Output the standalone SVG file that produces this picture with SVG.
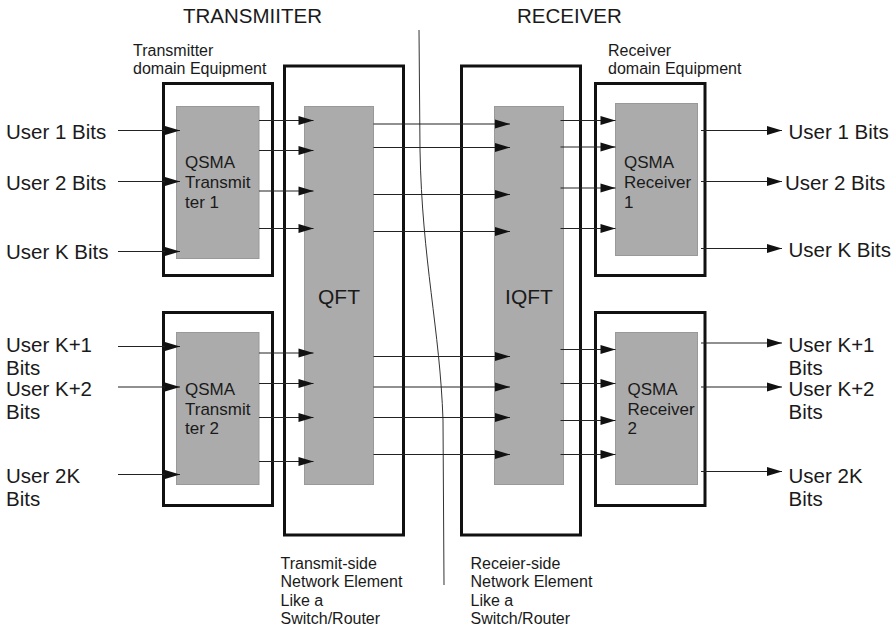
<svg xmlns="http://www.w3.org/2000/svg" width="896" height="630" viewBox="0 0 896 630">
<defs>
<marker id="ah" markerUnits="userSpaceOnUse" markerWidth="15" markerHeight="9" refX="15" refY="4.5" orient="auto" overflow="visible">
<path d="M0,0 L15,4.5 L0,9 Z" fill="#111"/>
</marker>
<style>
text{font-family:"Liberation Sans",Arial,sans-serif;fill:#1a1a1a}
.outer{fill:none;stroke:#111;stroke-width:3}
.gray{fill:#ababab;stroke:#999;stroke-width:1}
.lbl{font-size:20.5px}
.hdr{font-size:20.5px}
.sm{font-size:16px}
.in{font-size:17px}
.big{font-size:21px;text-anchor:middle}
.c{stroke:#222;stroke-width:1.2;fill:none;marker-end:url(#ah)}
</style>
</defs>
<rect width="896" height="630" fill="#fff"/>

<g id="headers">
<text class="hdr" x="183" y="23">TRANSMIITER</text>
<text class="hdr" x="517" y="23">RECEIVER</text>
</g>

<g id="divider">
<path d="M419,30 L420,150 C422,260 440,330 443,420 L444,585" fill="none" stroke="#333" stroke-width="1"/>
</g>

<g id="tx-domain-label">
<text class="sm" x="133" y="56">Transmitter</text>
<text class="sm" x="133" y="74">domain Equipment</text>
</g>
<g id="rx-domain-label">
<text class="sm" x="608" y="56">Receiver</text>
<text class="sm" x="608" y="74">domain Equipment</text>
</g>

<g id="tx1">
<rect class="outer" x="163.5" y="83.5" width="109" height="192"/>
<rect class="gray" x="176.5" y="106.5" width="82.5" height="152"/>
<text class="in" x="185" y="168">QSMA</text>
<text class="in" x="185" y="188">Transmit</text>
<text class="in" x="185" y="207.5">ter 1</text>
</g>

<g id="tx2">
<rect class="outer" x="163.5" y="312.5" width="109" height="193"/>
<rect class="gray" x="176.5" y="332.5" width="82.5" height="152"/>
<text class="in" x="185" y="394.5">QSMA</text>
<text class="in" x="185" y="414.5">Transmit</text>
<text class="in" x="185" y="434">ter 2</text>
</g>

<g id="qft">
<rect class="outer" x="284.5" y="66" width="119" height="469"/>
<rect class="gray" x="304.5" y="106.5" width="69" height="378"/>
<text class="big" x="339" y="303.5">QFT</text>
</g>

<g id="iqft">
<rect class="outer" x="461.5" y="66" width="119" height="469"/>
<rect class="gray" x="494.5" y="106.5" width="69" height="378"/>
<text class="big" x="529" y="303.5">IQFT</text>
</g>

<g id="rx1">
<rect class="outer" x="595.5" y="83.5" width="109.5" height="192"/>
<rect class="gray" x="615.5" y="103.5" width="82" height="152"/>
<text class="in" x="624" y="168">QSMA</text>
<text class="in" x="624" y="188">Receiver</text>
<text class="in" x="624" y="207.5">1</text>
</g>

<g id="rx2">
<rect class="outer" x="595.5" y="312.5" width="109.5" height="193"/>
<rect class="gray" x="615.5" y="332.5" width="82" height="152"/>
<text class="in" x="627.5" y="394.5">QSMA</text>
<text class="in" x="627.5" y="414.5">Receiver</text>
<text class="in" x="627.5" y="434">2</text>
</g>

<g id="inputs-labels">
<text class="lbl" x="6" y="138.5">User 1 Bits</text>
<text class="lbl" x="6" y="189.5">User 2 Bits</text>
<text class="lbl" x="6" y="259">User K Bits</text>
<text class="lbl" x="6" y="352">User K+1</text>
<text class="lbl" x="6" y="375">Bits</text>
<text class="lbl" x="6" y="395.5">User K+2</text>
<text class="lbl" x="6" y="418.5">Bits</text>
<text class="lbl" x="6" y="483">User 2K</text>
<text class="lbl" x="6" y="506">Bits</text>
</g>

<g id="outputs-labels">
<text class="lbl" x="788.5" y="138.5">User 1 Bits</text>
<text class="lbl" x="785" y="189.5">User 2 Bits</text>
<text class="lbl" x="788.5" y="256.5">User K Bits</text>
<text class="lbl" x="788.5" y="352">User K+1</text>
<text class="lbl" x="788.5" y="375">Bits</text>
<text class="lbl" x="788.5" y="395.5">User K+2</text>
<text class="lbl" x="788.5" y="418.5">Bits</text>
<text class="lbl" x="788.5" y="483">User 2K</text>
<text class="lbl" x="788.5" y="506">Bits</text>
</g>

<g id="tx-ne-label">
<text class="sm" x="280.5" y="568.5">Transmit-side</text>
<text class="sm" x="280.5" y="587">Network Element</text>
<text class="sm" x="280.5" y="605.5">Like a</text>
<text class="sm" x="280.5" y="624">Switch/Router</text>
</g>
<g id="rx-ne-label">
<text class="sm" x="470.5" y="568.5">Receier-side</text>
<text class="sm" x="470.5" y="587">Network Element</text>
<text class="sm" x="470.5" y="605.5">Like a</text>
<text class="sm" x="470.5" y="624">Switch/Router</text>
</g>

<g id="connectors">
<line class="c" x1="118" y1="130.5" x2="180" y2="130.5"/>
<line class="c" x1="118" y1="181.5" x2="180" y2="181.5"/>
<line class="c" x1="118" y1="251.5" x2="180" y2="251.5"/>
<line class="c" x1="118" y1="346.5" x2="180" y2="346.5"/>
<line class="c" x1="118" y1="387" x2="180" y2="387"/>
<line class="c" x1="118" y1="474.5" x2="180" y2="474.5"/>
<line class="c" x1="259" y1="120.5" x2="313.5" y2="120.5"/>
<line class="c" x1="259" y1="150.5" x2="313.5" y2="150.5"/>
<line class="c" x1="259" y1="191" x2="313.5" y2="191"/>
<line class="c" x1="259" y1="228.5" x2="313.5" y2="228.5"/>
<line class="c" x1="259" y1="353" x2="313.5" y2="353"/>
<line class="c" x1="259" y1="383.5" x2="313.5" y2="383.5"/>
<line class="c" x1="259" y1="417.5" x2="313.5" y2="417.5"/>
<line class="c" x1="259" y1="461.5" x2="313.5" y2="461.5"/>
<line class="c" x1="373.5" y1="124" x2="510" y2="124"/>
<line class="c" x1="373.5" y1="147.5" x2="510" y2="147.5"/>
<line class="c" x1="373.5" y1="194.5" x2="510" y2="194.5"/>
<line class="c" x1="373.5" y1="231.5" x2="510" y2="231.5"/>
<line class="c" x1="373.5" y1="356.5" x2="510" y2="356.5"/>
<line class="c" x1="373.5" y1="387" x2="510" y2="387"/>
<line class="c" x1="373.5" y1="417.5" x2="510" y2="417.5"/>
<line class="c" x1="373.5" y1="454.5" x2="510" y2="454.5"/>
<line class="c" x1="560.5" y1="120.5" x2="615.5" y2="120.5"/>
<line class="c" x1="560.5" y1="147" x2="615.5" y2="147"/>
<line class="c" x1="560.5" y1="188" x2="615.5" y2="188"/>
<line class="c" x1="560.5" y1="228.5" x2="615.5" y2="228.5"/>
<line class="c" x1="560.5" y1="349.5" x2="615.5" y2="349.5"/>
<line class="c" x1="560.5" y1="383.5" x2="615.5" y2="383.5"/>
<line class="c" x1="560.5" y1="420.5" x2="615.5" y2="420.5"/>
<line class="c" x1="560.5" y1="454.5" x2="615.5" y2="454.5"/>
<line class="c" x1="701" y1="130.5" x2="782" y2="130.5"/>
<line class="c" x1="701" y1="181.5" x2="782" y2="181.5"/>
<line class="c" x1="701" y1="248.5" x2="782" y2="248.5"/>
<line class="c" x1="701" y1="343" x2="782" y2="343"/>
<line class="c" x1="701" y1="387" x2="782" y2="387"/>
<line class="c" x1="701" y1="471.5" x2="782" y2="471.5"/>
</g>
</svg>
